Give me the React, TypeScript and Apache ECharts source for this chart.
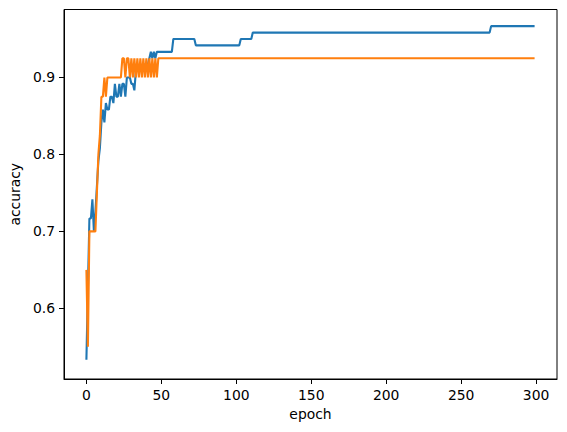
import React, { useEffect, useRef } from "react";
import * as echarts from "echarts";

// Training accuracy (blue): explicit values for epochs 0–46
const trainHead = [
  0.5333, 0.625, 0.7167, 0.7167, 0.7417, 0.7, 0.725, 0.7583, 0.7917, 0.8083,
  0.8417, 0.8583, 0.8417, 0.8667, 0.8583, 0.8583, 0.875, 0.875, 0.8667, 0.8917,
  0.875, 0.875, 0.8917, 0.875, 0.8917, 0.8917, 0.875, 0.9, 0.9, 0.9,
  0.8917, 0.8917, 0.8833, 0.9083, 0.9083, 0.9083, 0.9167, 0.9083, 0.9167, 0.9167,
  0.9167, 0.9167, 0.925, 0.9333, 0.925, 0.9333, 0.925,
];
// Then plateaus: [value, last epoch held]
const trainRuns: [number, number][] = [
  [0.9333, 57],
  [0.95, 72],
  [0.9417, 102],
  [0.95, 110],
  [0.9583, 269],
  [0.9667, 299],
];

// Validation accuracy (orange): explicit values for epochs 0–47
const valHead = [
  0.65, 0.55, 0.7, 0.7, 0.7, 0.7, 0.7, 0.75, 0.8, 0.825,
  0.875, 0.875, 0.9, 0.875, 0.9, 0.9, 0.9, 0.9, 0.9, 0.9,
  0.9, 0.9, 0.9, 0.9, 0.925, 0.925, 0.9, 0.925, 0.925, 0.9,
  0.925, 0.9, 0.925, 0.9, 0.925, 0.9, 0.925, 0.9, 0.925, 0.9,
  0.925, 0.9, 0.925, 0.9, 0.925, 0.9, 0.925, 0.9,
];
const valRuns: [number, number][] = [[0.925, 299]];

const xTicks = [0, 50, 100, 150, 200, 250, 300];
const yTicks = [0.6, 0.7, 0.8, 0.9];

function build(head: number[], runs: [number, number][]): [number, number][] {
  const out: [number, number][] = head.map((v, i) => [i, v]);
  let e = head.length;
  for (const [v, last] of runs) {
    for (; e <= last; e++) out.push([e, v]);
  }
  return out;
}

export default function App() {
  const ref = useRef<HTMLDivElement>(null);
  useEffect(() => {
    document.body.style.margin = "0";
    const chart = echarts.init(ref.current!, null, { renderer: "svg" });
    const font = "DejaVu Sans";
    chart.setOption({
      animation: false,
      backgroundColor: "#fff",
      grid: {
        left: 61.5,
        top: 9.5,
        right: 10,
        bottom: 53,
        show: true,
        borderColor: "#000",
        borderWidth: 1,
        backgroundColor: "transparent",
      },
      xAxis: {
        type: "value",
        min: -14.95,
        max: 313.95,
        name: "epoch",
        nameLocation: "middle",
        nameGap: 27,
        nameTextStyle: { fontFamily: font, fontSize: 13.9, color: "#000" },
        splitLine: { show: false },
        axisLine: { show: true, onZero: false, lineStyle: { color: "#000", width: 1 } },
        axisTick: {
          show: true,
          length: 5,
          customValues: xTicks,
          lineStyle: { color: "#000", width: 1 },
        },
        axisLabel: {
          customValues: xTicks,
          margin: 9,
          fontFamily: font,
          fontSize: 13.9,
          color: "#000",
        },
      },
      yAxis: {
        type: "value",
        min: 0.5082,
        max: 0.9883,
        name: "accuracy",
        nameLocation: "middle",
        nameGap: 38,
        nameTextStyle: { fontFamily: font, fontSize: 13.9, color: "#000" },
        splitLine: { show: false },
        axisLine: { show: true, onZero: false, lineStyle: { color: "#000", width: 1 } },
        axisTick: {
          show: true,
          length: 5,
          customValues: yTicks,
          lineStyle: { color: "#000", width: 1 },
        },
        axisLabel: {
          customValues: yTicks,
          margin: 9,
          fontFamily: font,
          fontSize: 13.9,
          color: "#000",
          formatter: (v: number) => v.toFixed(1),
        },
      },
      series: [
        {
          type: "line",
          data: build(trainHead, trainRuns),
          showSymbol: false,
          lineStyle: { color: "#1f77b4", width: 2.1 },
          itemStyle: { color: "#1f77b4" },
        },
        {
          type: "line",
          data: build(valHead, valRuns),
          showSymbol: false,
          lineStyle: { color: "#ff7f0e", width: 2.1 },
          itemStyle: { color: "#ff7f0e" },
        },
      ],
    });
    return () => chart.dispose();
  }, []);
  return <div ref={ref} style={{ width: 567, height: 432 }} />;
}
